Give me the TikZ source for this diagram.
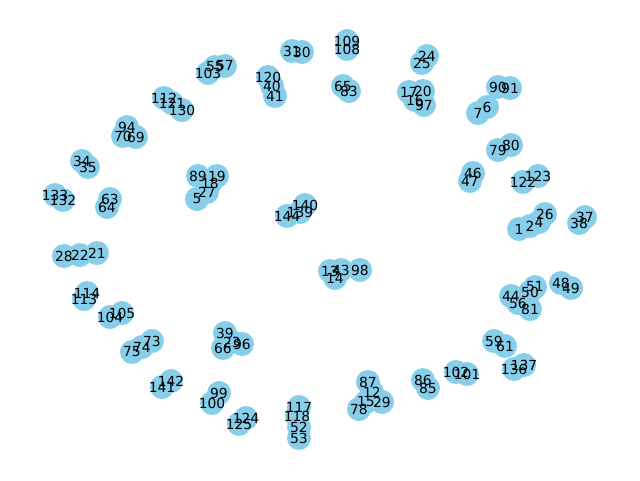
\documentclass[tikz,border=0pt]{standalone}
\usepackage{fontspec}
\setmainfont{DejaVu Sans}
\definecolor{skyblue}{HTML}{87CEEB}
\tikzset{
  dot/.style={circle,fill=skyblue,inner sep=0pt,minimum size=18pt},
  num/.style={inner sep=0pt,font=\fontsize{10.4}{12}\selectfont}
}
% node positions, in pixels of the 640x480 frame
\newcommand\nodelist{519/229/1, 530/226/2, 539/222/4, 545/214/26,
  585/217/37, 579/223/38, 523/182/122, 538/176/123, 498/150/79, 511/145/80,
  498/87/90, 510/88/91, 478/113/7, 487/107/6, 473/173/46, 470/181/47,
  427/56/24, 422/63/25, 409/92/17, 423/91/20, 415/100/16, 424/105/97,
  343/86/65, 349/91/83, 347/41/109, 347/49/108, 292/51/31, 302/52/30,
  268/77/120, 272/86/40, 275/96/41, 208/73/103, 215/67/55, 225/66/57,
  164/98/112, 172/103/121, 182/110/130, 127/127/94, 123/136/70, 136/137/69,
  82/161/34, 88/167/35, 55/195/133, 63/200/132, 110/199/63, 107/207/64,
  64/256/28, 80/255/22, 97/253/21, 87/293/114, 84/299/113, 110/317/104,
  122/313/105, 152/341/73, 142/347/74, 132/352/75, 162/387/141, 171/381/142,
  219/393/99, 212/403/100, 225/333/39, 232/342/23, 242/344/96, 223/348/66,
  246/418/124, 239/424/125, 299/407/117, 297/416/118, 299/427/52, 299/438/53,
  368/382/87, 372/392/12, 366/402/15, 382/402/29, 359/409/78, 423/380/86,
  428/388/85, 456/372/102, 467/374/101, 494/341/59, 505/346/61, 524/365/137,
  514/369/136, 511/296/44, 518/303/56, 530/309/81, 530/292/50, 535/287/51,
  561/283/48, 571/288/49, 330/271/13, 335/278/14, 341/270/43, 360/270/98,
  198/176/89, 217/176/19, 210/183/18, 207/192/27, 197/199/5,
  305/205/140, 300/212/139, 287/216/144}

\begin{document}
\begin{tikzpicture}[x=0.75pt,y=-0.75pt]
  \useasboundingbox (0,0) rectangle (640,480);
  % discs first, numbers on top
  \foreach \x/\y/\n in \nodelist
    \node[dot] (n\n) at (\x,\y) {};
  \foreach \x/\y/\n in \nodelist
    \node[num] (t\n) at (n\n) {\n};
\end{tikzpicture}
\end{document}
